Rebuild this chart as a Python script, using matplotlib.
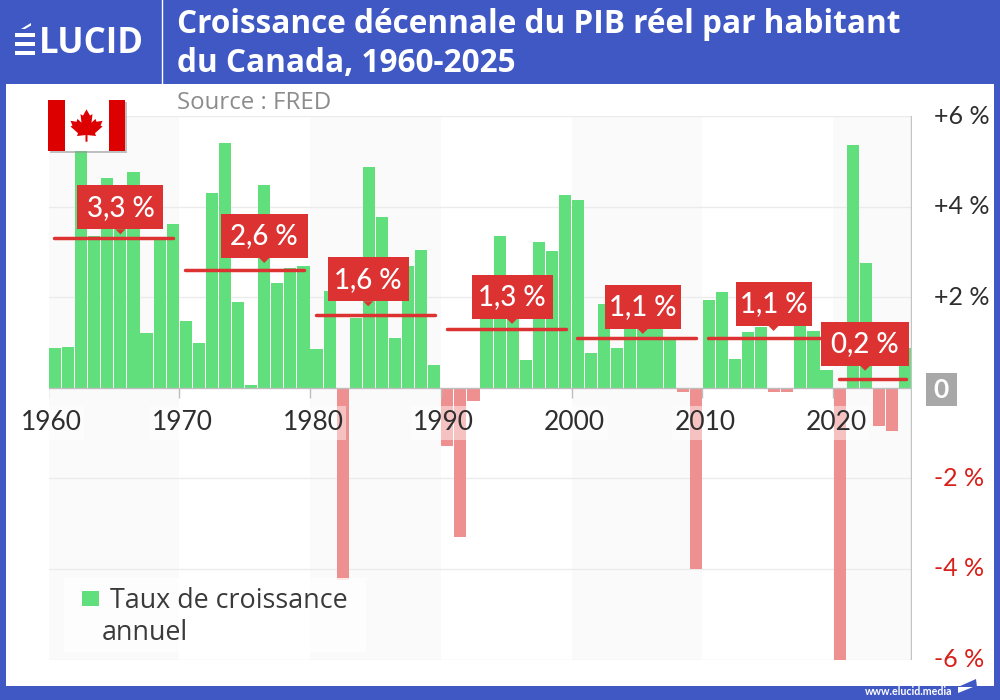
# decennial real GDP per capita growth, Canada
import matplotlib
matplotlib.use('Agg')
import matplotlib.pyplot as plt
from matplotlib.patches import Rectangle, Polygon
import numpy as np

plt.rcParams['font.family'] = ['Lato', 'DejaVu Sans']
WIDE = ['Open Sans', 'DejaVu Sans']

years = list(range(1960, 2026))
growth = [0.87, 0.90, 5.30, 3.35, 4.64, 3.60, 4.76, 1.21, 3.30, 3.62,
          1.48, 0.98, 4.29, 5.41, 1.90, 0.06, 4.48, 2.31, 2.65, 2.68,
          0.85, 2.13, -4.25, 1.54, 4.87, 3.76, 1.10, 2.68, 3.04, 0.50,
          -1.29, -3.30, -0.29, 1.70, 3.34, 1.70, 0.61, 3.22, 3.01, 4.26,
          4.14, 0.76, 1.86, 0.87, 1.30, 1.30, 1.30, 1.05, -0.09, -4.00,
          1.93, 2.11, 0.64, 1.23, 1.35, -0.10, -0.09, 1.80, 1.26, 0.40,
          -6.00, 5.35, 2.76, -0.84, -0.95, 0.88]

decade_starts = [1960, 1970, 1980, 1990, 2000, 2010, 2020]
decade_ends = [1970, 1980, 1990, 2000, 2010, 2020, 2026]
decade_avg = [3.3, 2.6, 1.6, 1.3, 1.1, 1.1, 0.2]
decade_text = ['3,3 %', '2,6 %', '1,6 %', '1,3 %', '1,1 %', '1,1 %', '0,2 %']

y_ticks = [6, 4, 2, -2, -4, -6]
y_labels = ['+6 %', '+4 %', '+2 %', '-2 %', '-4 %', '-6 %']
x_ticks = [1960, 1970, 1980, 1990, 2000, 2010, 2020]

BLUE = '#3f58c4'
GREEN = '#61df7c'
PINK = '#ee9090'
RED = '#dc3232'

fig = plt.figure(figsize=(10, 7), dpi=100, facecolor='white')
ax = fig.add_axes([48.5 / 1000, 1 - 659.5 / 700, 863 / 1000, 543.5 / 700])
ax.set_xlim(1960, 2026)
ax.set_ylim(-6, 6)
ax.set_axisbelow(True)

# alternating decade bands
for i, start in enumerate(decade_starts):
    if i % 2 == 0:
        ax.axvspan(start, decade_ends[i], color='#fafafa', lw=0, zorder=0)
for t in y_ticks:
    ax.axhline(t, color='#ebebeb', lw=1, zorder=1)

colors = [GREEN if v >= 0 else PINK for v in growth]
ax.bar(np.array(years) + 0.5, growth, width=0.93, color=colors, zorder=2)
ax.axhline(0, color='#bdbdbd', lw=1, zorder=3)
ax.vlines(x_ticks, -0.22, 0, color='#bdbdbd', lw=1, zorder=3)
ax.axvline(2026, color='#c4c4c4', lw=1, zorder=3)

for s in ax.spines.values():
    s.set_visible(False)
ax.set_xticks([])
ax.yaxis.tick_right()
ax.set_yticks(y_ticks)
ax.set_yticklabels(y_labels, fontsize=18, va='center')
ax.tick_params(axis='y', length=0, pad=16)
for lab, t in zip(ax.get_yticklabels(), y_ticks):
    lab.set_color('#2e2e2e' if t > 0 else '#d8201a')

# decade averages
for s, e, v in zip(decade_starts, decade_ends, decade_avg):
    ax.plot([s + 0.45, e - 0.45], [v, v], color=RED, lw=2.5, solid_capstyle='round', zorder=4)

# everything else sits on a pixel-sized overlay
ov = fig.add_axes([0, 0, 1, 1], facecolor='none')
ov.set_xlim(0, 1000)
ov.set_ylim(700, 0)
ov.axis('off')

def to_px(x, y):
    p = ax.transData.transform((x, y))
    return p[0], 700 - p[1]

# year labels, each with a light veil behind it
for t in x_ticks:
    px, _ = to_px(t, 0)
    ov.add_patch(Rectangle((px + 3 - 33, 406), 66, 34, color='white', alpha=0.45, lw=0, zorder=1))
    ov.text(px + 3, 423, str(t), ha='center', va='center', fontsize=19, color='#2e2e2e', zorder=2)

# zero tag
ov.add_patch(Rectangle((926, 373), 31, 33, color='#a8a8a8', lw=0, zorder=2))
ov.text(941, 390, '0', ha='center', va='center', fontsize=19, color='white', fontweight='bold', zorder=3)

# average value tags
box_w = [86, 87, 81, 81, 76, 76, 88]
box_gap = [9, 12, 14, 10, 9, 12, 13]
tag_x = [1965.5, 1976.5, 1984.45, 1995.45, 2005.45, 2015.45, 2022.45]
for i, txt in enumerate(decade_text):
    px, py = to_px(tag_x[i], decade_avg[i])
    top = py - box_gap[i] - 44
    ov.add_patch(Rectangle((px - box_w[i] / 2, top), box_w[i], 44, color=RED, lw=0, zorder=5))
    ov.add_patch(Polygon([(px - 5, top + 44), (px + 5, top + 44), (px, top + 49)], color=RED, lw=0, zorder=5))
    ov.text(px, top + 22.5, txt, ha='center', va='center', fontsize=20, color='white',
            fontweight='medium', zorder=6)

# legend
ov.add_patch(Rectangle((64, 578), 302, 74, color='white', alpha=0.8, lw=0, zorder=6))
ov.add_patch(Rectangle((82, 591), 17, 15, color=GREEN, lw=0, zorder=7))
ov.text(110, 600.5, 'Taux de croissance', va='center', fontsize=19.4, color='#3a3a3a', family=WIDE, zorder=7)
ov.text(102, 633.5, 'annuel', va='center', fontsize=19.4, color='#3a3a3a', family=WIDE, zorder=7)

# header and frame
ov.add_patch(Rectangle((0, 0), 1000, 84, color=BLUE, lw=0, zorder=8))
ov.add_patch(Rectangle((0, 0), 6, 700, color=BLUE, lw=0, zorder=8))
ov.add_patch(Rectangle((994, 0), 6, 700, color=BLUE, lw=0, zorder=8))
ov.add_patch(Rectangle((0, 686), 1000, 14, color=BLUE, lw=0, zorder=8))
ov.plot([162, 162], [0, 84], color='white', lw=1, zorder=9)

ov.text(177, 24.5, 'Croissance décennale du PIB réel par habitant', va='center', fontsize=22.7,
        color='white', fontweight='bold', family=WIDE, zorder=9)
ov.text(177, 63.5, 'du Canada, 1960-2025', va='center', fontsize=22.7,
        color='white', fontweight='bold', family=WIDE, zorder=9)
ov.text(177, 103, 'Source : FRED', va='center', fontsize=17.3, color='#8c8c8c', family=WIDE, zorder=9)

# logo: E made of three bars with an accent, then the remaining letters
for y0 in [33, 42, 51]:
    ov.add_patch(Rectangle((15, y0), 20, 4, color='white', lw=0, zorder=9))
ov.add_patch(Polygon([(21, 29), (31, 23), (31, 25.5), (25, 29)], color='white', lw=0, zorder=9))
ov.text(39, 44, 'LUCID', va='center', fontsize=25, color='white', fontweight='bold', family=WIDE, zorder=9)

# footer
ov.text(865, 691.5, 'www.elucid.media', va='center', fontsize=7.7, color='white', fontweight='bold', zorder=9)
ov.add_patch(Polygon([(958, 687), (976, 679), (977, 687), (958, 694)], color=BLUE, lw=0, zorder=9))
ov.add_patch(Polygon([(958, 687), (973, 687), (958, 693)], color='white', lw=0, zorder=10))

# flag
ov.add_patch(Rectangle((50, 102), 77, 51, color='#999999', alpha=0.6, lw=0, zorder=9))
ov.add_patch(Rectangle((48, 100), 77, 51, color='white', lw=0, zorder=10))
ov.add_patch(Rectangle((48, 100), 17, 51, color='#dd0000', lw=0, zorder=11))
ov.add_patch(Rectangle((109, 100), 16, 51, color='#dd0000', lw=0, zorder=11))
leaf_half = [(0, -18), (3.5, -11.5), (6, -13), (5, -4), (9, -8), (10, -5), (16, -6), (14, -1),
             (16, 0), (8.5, 7), (9.5, 10), (1, 9), (1, 16)]
leaf = [(86.5 + a, 126.5 + b * 0.95) for a, b in leaf_half] + [(86.5 - a, 126.5 + b * 0.95) for a, b in reversed(leaf_half)]
ov.add_patch(Polygon(leaf, color='#dd0000', lw=0, zorder=11))

fig.savefig('out.png', dpi=100)
